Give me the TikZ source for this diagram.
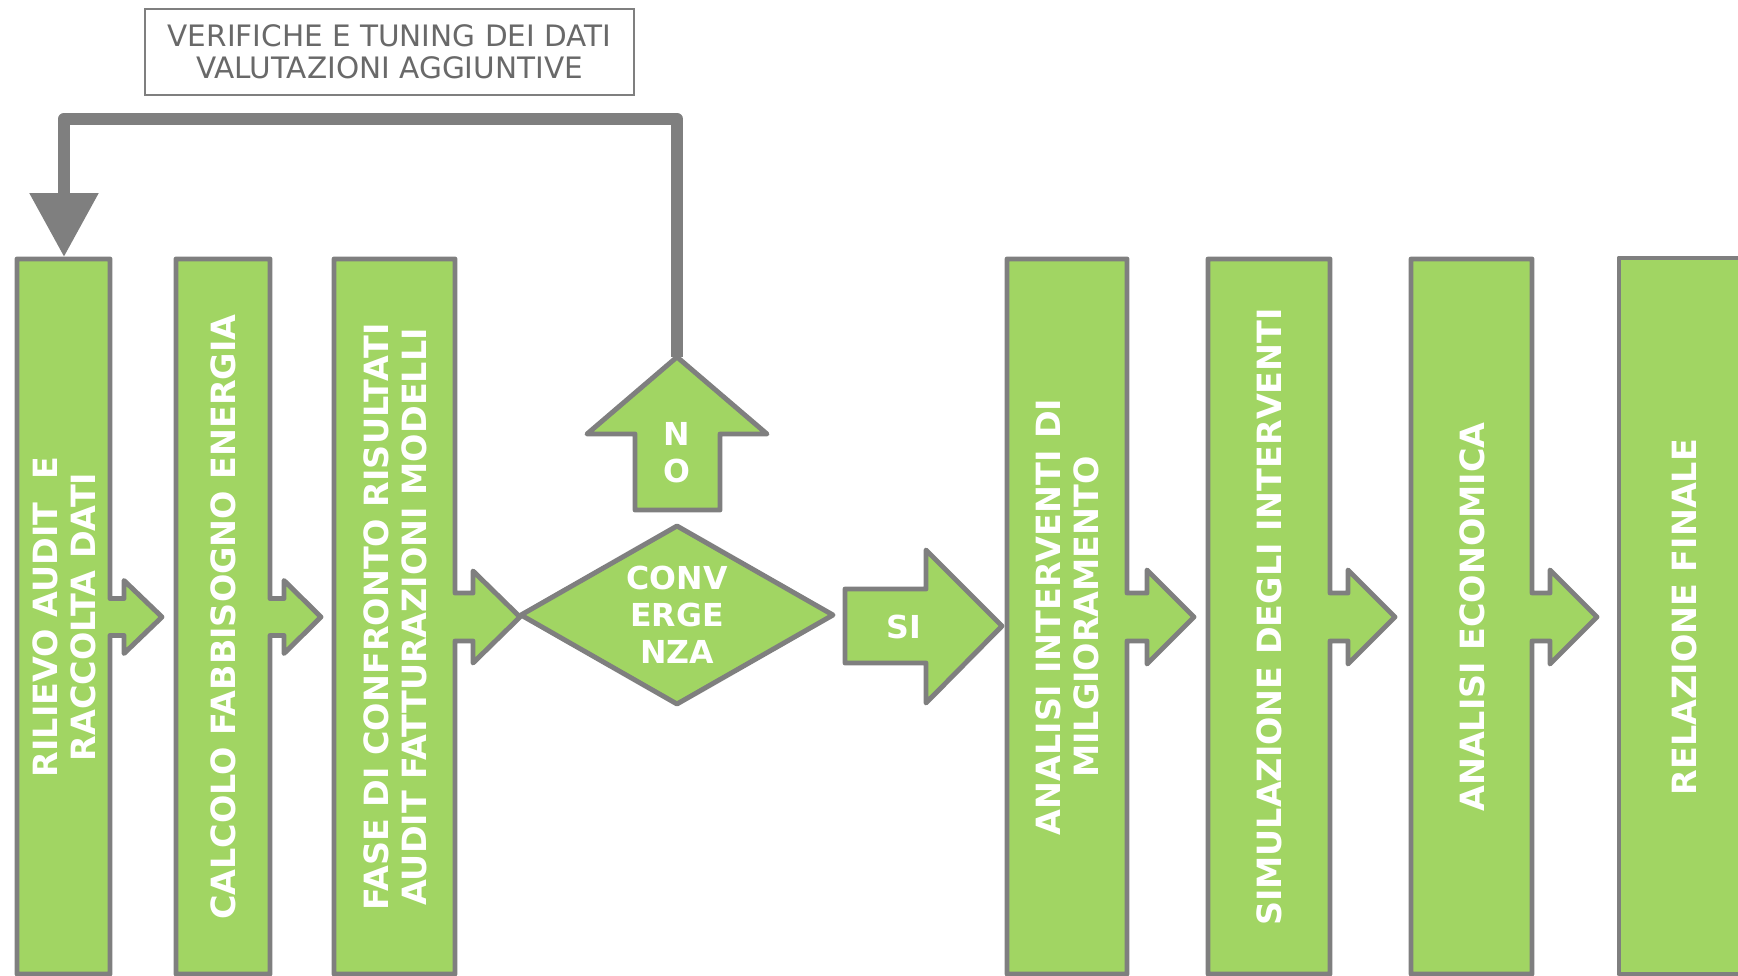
\documentclass[tikz,border=0pt]{standalone}
\usepackage{fontspec}
\setmainfont{DejaVu Sans}
\usetikzlibrary{arrows.meta}
\definecolor{stepgreen}{RGB}{161,213,99}
\definecolor{stepgray}{RGB}{127,127,127}
\definecolor{notegray}{RGB}{105,105,105}
\tikzset{
  stepbox/.style={draw=stepgray, fill=stepgreen, line width=2.8pt, line join=round},
  steptext/.style={rotate=90, align=center, text=white, inner sep=0pt,
    font=\fontsize{19}{21.5}\selectfont\bfseries},
  choicetext/.style={align=center, text=white, inner sep=0pt,
    font=\fontsize{18}{21}\selectfont\bfseries},
  notebox/.style={draw=stepgray, line width=1pt, fill=white, align=center, text=notegray,
    minimum width=9.78cm, minimum height=1.72cm, inner sep=0pt,
    font=\fontsize{16.8}{18.2}\selectfont},
  loopline/.style={draw=stepgray, line width=7pt, line join=round,
    -{Triangle[length=1.28cm, width=1.32cm]}}
}
\begin{document}
\begin{tikzpicture}[x=0.02cm, y=-0.02cm]
  \useasboundingbox (0,0) rectangle (1738,976);
  \clip (0,0) rectangle (1738,976);
  % steps with their arrows
  \foreach \name/\l/\r/\s/\t/\h/\H in {b1/17/110/124/162/18.5/36.5, b2/176/270/284/321/18.5/36.5,
      b3/334/455/473/520/24/46, b4/1007/1127/1147/1194/24/47,
      b5/1208/1330/1348/1395/24/47, b6/1411/1532/1550/1597/24/47}
    \draw[stepbox] (\l,259) -- (\r,259) -- (\r,617-\h) -- (\s,617-\h) -- (\s,617-\H)
      -- (\t,617) -- (\s,617+\H) -- (\s,617+\h) -- (\r,617+\h) -- (\r,974) -- (\l,974) -- cycle;
  \draw[stepbox] (1619,258) -- (1760,258) -- (1760,974) -- (1619,974) -- cycle;
  \coordinate (b1-top) at (64,257);
  \node[steptext] (t1) at (64,617) {RILIEVO AUDIT\ \ E\\RACCOLTA DATI};
  \node[steptext] (t2) at (223,617) {CALCOLO FABBISOGNO ENERGIA};
  \node[steptext] (t3) at (395,617) {FASE DI CONFRONTO RISULTATI\\AUDIT FATTURAZIONI MODELLI};
  \node[steptext] (t4) at (1067,617) {ANALISI INTERVENTI DI\\MILGIORAMENTO};
  \node[steptext] (t5) at (1269,617) {SIMULAZIONE DEGLI INTERVENTI};
  \node[steptext] (t6) at (1472,617) {ANALISI ECONOMICA};
  \node[steptext] (t7) at (1684,617) {RELAZIONE FINALE};
  % decision
  \draw[stepbox] (521,615) -- (677,526) -- (833,615) -- (677,704) -- cycle;
  \node[choicetext] (conv) at (677,615) {CONV\\ERGE\\NZA};
  \draw[stepbox] (677,357) -- (767,434) -- (720,434) -- (720,510) -- (635,510) -- (635,434)
    -- (587,434) -- cycle;
  \coordinate (no-tip) at (677,357);
  \node[choicetext] (no) at (677,453) {N\\O};
  \draw[stepbox] (845,589) -- (926,589) -- (926,550) -- (1002,626) -- (926,703) -- (926,663)
    -- (845,663) -- cycle;
  \node[choicetext] (si) at (904,627) {SI};
  % loop back
  \draw[loopline] (no-tip) -- (677,119) -- (64,119) -- (b1-top);
  \node[notebox] (note) at (389.5,52) {VERIFICHE E TUNING DEI DATI\\VALUTAZIONI AGGIUNTIVE};
\end{tikzpicture}
\end{document}
